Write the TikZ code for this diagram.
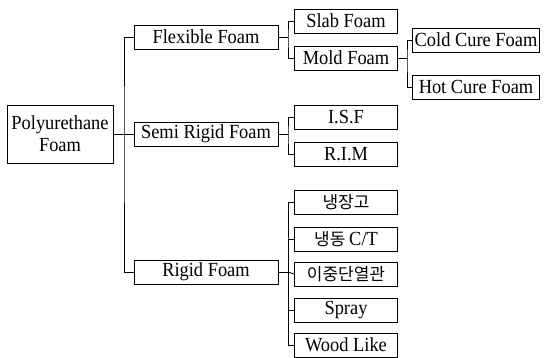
\documentclass[tikz,border=0pt]{standalone}
\usepackage{fontspec}
\setmainfont[FakeStretch=0.92]{Liberation Serif}
\newfontfamily\kofont{Noto Sans CJK KR}
\begin{document}
\begin{tikzpicture}[x=1pt,y=-1pt,line width=0.9pt,
  every node/.style={font=\fontsize{20}{22}\selectfont,inner sep=0pt},
  box/.style={draw,minimum height=24pt},
  lvlone/.style={box,minimum width=144pt},
  lvltwo/.style={box,minimum width=103pt},
  lvlthree/.style={box,minimum width=127pt},
  ko/.style={font=\kofont\fontsize{17}{19}\selectfont}]
  \useasboundingbox (0,0) rectangle (547,358);
  % root
  \node[draw,minimum width=106pt,minimum height=58pt,align=center] (root) at (60,134) {Polyurethane\\Foam};
  % first level
  \node[lvlone] (flex) at (206,37) {Flexible Foam};
  \node[lvlone] (semi) at (206,134) {Semi Rigid Foam};
  \node[lvlone] (rigid) at (206,272) {Rigid Foam};
  % second level
  \node[lvltwo] (slab) at (346,21) {Slab Foam};
  \node[lvltwo] (mold) at (346,58) {Mold Foam};
  \node[lvltwo] (isf) at (346,117) {I.S.F};
  \node[lvltwo] (rim) at (346,154) {R.I.M};
  \node[lvltwo,ko] (fridge) at (346,202) {냉장고};
  \node[lvltwo,ko] (freezer) at (346,239) {냉동\ \rmfamily\fontsize{20}{22}\selectfont C/T};
  \node[lvltwo,ko] (pipe) at (346,274) {이중단열관};
  \node[lvltwo] (spray) at (346,310) {Spray};
  \node[lvltwo] (wood) at (346,345) {Wood Like};
  % third level
  \node[lvlthree] (cold) at (476,40) {Cold Cure Foam};
  \node[lvlthree] (hot) at (476,87) {Hot Cure Foam};
  % junctions
  \coordinate (t0) at (124,134);
  \coordinate (t1) at (288,37);
  \coordinate (t2) at (288,134);
  \coordinate (t3) at (288,272);
  \coordinate (t4) at (407,58);
  % connectors
  \draw (root.east) -- (t0);
  \draw (flex.west) -| (t0) |- (rigid.west);
  \draw (t0) -- (semi.west);
  \draw (flex.east) -- (t1);
  \draw (slab.west) -| (t1) |- (mold.west);
  \draw (semi.east) -- (t2);
  \draw (isf.west) -| (t2) |- (rim.west);
  \draw (rigid.east) -- (t3);
  \draw (fridge.west) -| (t3) |- (wood.west);
  \draw (t3) |- (freezer.west);
  \draw (t3) -- (pipe.west);
  \draw (t3) |- (spray.west);
  \draw (mold.east) -- (t4);
  \draw (cold.west) -| (t4) |- (hot.west);
\end{tikzpicture}
\end{document}
